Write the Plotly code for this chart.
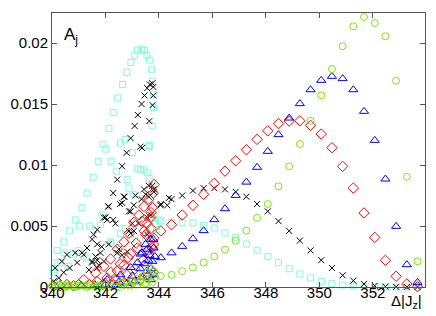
import plotly.graph_objects as go

# ---------------- data ----------------
# sparse grid shared by all series (x >= 344)
grid_x = [344.07, 344.47, 344.87, 345.27, 345.67, 346.07, 346.47, 346.87, 347.27, 347.67,
          348.07, 348.47, 348.87, 349.27, 349.67, 350.07, 350.47, 350.87, 351.27, 351.67,
          352.07, 352.47, 352.87, 353.27, 353.67]

cyan_tail = [0.0054, 0.0053, 0.00525, 0.00525, 0.00506, 0.00484, 0.00443, 0.00407, 0.00352, 0.00301,
             0.00251, 0.00199, 0.0015, 0.00107, 0.00074, 0.00047, 0.00027, 0.00016, 0.0001, 0.00005,
             0.00002, 0.00001, 0.0, 0.0, 0.0]
black_tail = [0.0068, 0.0072, 0.0075, 0.0079, 0.0081, 0.0081, 0.0080, 0.0078, 0.0074, 0.0068,
              0.0062, 0.0054, 0.0046, 0.0038, 0.0030, 0.0022, 0.00156, 0.00096, 0.00052, 0.00025,
              0.0001, 0.00003, 0.00001, 0.0, 0.0]
red_tail = [0.0046, 0.0051, 0.0059, 0.0067, 0.0076, 0.0085, 0.0095, 0.01035, 0.01125, 0.0121,
            0.0128, 0.0134, 0.0136, 0.01363, 0.01325, 0.01254, 0.01142, 0.00989, 0.00811, 0.00607,
            0.00407, 0.00219, 0.00088, 0.00025, 0.00002]
blue_tail = [0.0024, 0.0028, 0.00333, 0.00396, 0.00462, 0.00552, 0.00642, 0.00751, 0.0086, 0.00981,
             0.01112, 0.01249, 0.01385, 0.01503, 0.01617, 0.01694, 0.01727, 0.01708, 0.01617, 0.0144,
             0.01202, 0.00885, 0.00497, 0.00183, 0.00038]
green_tail = [0.0009, 0.0010, 0.0013, 0.0016, 0.0020, 0.0025, 0.00306, 0.0038, 0.00462, 0.00566,
              0.0068, 0.00825, 0.00989, 0.01172, 0.01363, 0.01571, 0.01787, 0.01973, 0.02137, 0.02213,
              0.02164, 0.02055, 0.01691, 0.00904, 0.00211]

# dense part (340 - 344)
cyan_dense_x = [340.06, 340.19, 340.19, 340.44, 340.66, 340.87, 341.12, 341.31, 341.54, 341.73,
                341.91, 342.13, 342.29, 342.46, 342.64, 342.80, 342.95, 343.09, 343.20, 343.35,
                343.46, 343.55, 343.64, 343.72, 343.76, 343.79, 343.80, 343.75, 343.64,
                340.04, 340.31, 340.46, 340.79, 341.02, 341.41, 341.81, 341.87, 342.19, 342.56,
                342.75, 342.88, 342.41, 343.19, 343.31, 343.44, 343.56, 343.63, 343.75, 343.81,
                343.04, 342.21, 342.01, 342.56, 342.73, 343.01, 342.81, 343.37, 343.81, 343.87,
                342.94, 342.21, 343.62, 344.00, 343.90, 340.60, 341.00, 341.30, 343.50]
cyan_dense_y = [0.0012, 0.0020, 0.0030, 0.0037, 0.0046, 0.0055, 0.0065, 0.0077, 0.0090, 0.0103,
                0.0117, 0.0130, 0.0143, 0.0155, 0.0166, 0.0176, 0.0184, 0.0190, 0.0194, 0.0195,
                0.0194, 0.0190, 0.0186, 0.0178, 0.0169, 0.0158, 0.0147, 0.0132, 0.0116,
                0.0014, 0.0020, 0.0028, 0.0027, 0.0050, 0.0050, 0.0051, 0.0059, 0.0037, 0.0044,
                0.0048, 0.0081, 0.0095, 0.0097, 0.0096, 0.0096, 0.0094, 0.0089, 0.0083, 0.0077,
                0.0076, 0.0103, 0.0113, 0.0118, 0.0121, 0.0110, 0.0088, 0.0069, 0.0058, 0.0052,
                0.0039, 0.0036, 0.0115, 0.0055, 0.0047, 0.0017, 0.0030, 0.0024, 0.0040]

black_dense_x = [340.06, 340.25, 340.44, 340.66, 340.94, 341.12, 341.31, 341.50, 341.69, 341.94,
                 342.10, 342.29, 342.44, 342.62, 342.79, 342.94, 343.09, 343.21, 343.35, 343.46,
                 343.56, 343.66, 343.75, 343.79, 343.79, 343.76, 343.64, 343.37,
                 340.12, 340.37, 340.56, 340.87, 341.19, 341.56, 341.94, 341.69, 342.29,
                 342.71, 342.54, 342.88, 342.37, 342.06, 343.00, 342.88, 343.25, 343.56, 343.69,
                 343.75, 343.81, 343.50, 343.12, 343.35, 341.81, 341.69, 341.50, 341.38, 342.44,
                 342.62, 342.81, 343.06, 343.56, 341.75, 343.31, 343.62, 343.44, 343.81, 343.62,
                 342.69, 343.06, 342.62, 342.94, 342.12, 342.00, 342.94, 342.50, 342.12, 341.63,
                 341.50, 341.69, 341.86, 344.31, 344.37, 344.06]
black_dense_y = [0.00047, 0.00074, 0.0012, 0.00156, 0.0020, 0.0028, 0.0032, 0.0039, 0.0047, 0.0057,
                 0.0066, 0.0077, 0.0088, 0.0099, 0.0110, 0.0122, 0.0132, 0.0141, 0.0150, 0.0157,
                 0.0163, 0.0166, 0.0167, 0.0164, 0.0157, 0.0149, 0.0136, 0.0114,
                 0.00156, 0.0021, 0.00265, 0.0028, 0.00265, 0.0043, 0.0021, 0.00156, 0.0055,
                 0.0074, 0.0068, 0.0062, 0.0052, 0.0055, 0.0052, 0.0046, 0.0052, 0.0057, 0.0059,
                 0.0083, 0.0080, 0.0076, 0.0075, 0.0072, 0.0028, 0.0022, 0.0021, 0.0014, 0.0028,
                 0.0026, 0.0029, 0.0046, 0.0043, 0.0018, 0.0115, 0.0083, 0.0080, 0.0078, 0.0074,
                 0.0074, 0.0067, 0.0069, 0.0062, 0.0066, 0.0057, 0.0044, 0.0031, 0.0035, 0.0025,
                 0.0020, 0.0035, 0.0033, 0.0067, 0.0073, 0.0067]

red_dense_x = [340.06, 340.56, 341.19, 341.63, 341.94, 342.19, 342.44, 342.69, 342.88, 343.06,
               343.25, 343.44, 343.62, 343.79, 343.82,
               341.69, 342.06, 342.44, 342.69, 342.94, 343.19, 343.37, 343.55, 343.69, 343.76,
               343.81, 343.75, 343.62,
               342.00, 342.40, 342.80, 343.10, 343.40, 343.60, 343.80, 343.70, 343.50,
               340.30, 340.80, 341.00, 341.40, 341.90, 342.30, 342.70, 343.00, 343.30, 343.60,
               343.80, 342.20, 342.55, 342.85, 343.15, 343.45, 343.70]
red_dense_y = [0.00006, 0.0002, 0.0006, 0.00115, 0.0017, 0.0023, 0.0031, 0.0037, 0.0044, 0.0053,
               0.0059, 0.0066, 0.0072, 0.0077, 0.0084,
               0.00047, 0.00074, 0.0013, 0.0018, 0.0027, 0.0032, 0.0054, 0.0052, 0.0057, 0.0065,
               0.0040, 0.0032, 0.0027,
               0.0003, 0.0006, 0.0010, 0.0015, 0.0022, 0.0030, 0.0035, 0.0048, 0.0043,
               0.0001, 0.0001, 0.0002, 0.0002, 0.0002, 0.0002, 0.0003, 0.0004, 0.0006, 0.0009,
               0.0012, 0.0012, 0.0019, 0.0024, 0.0036, 0.0046, 0.0061]

blue_dense_x = [342.06, 342.56, 342.94, 343.31, 343.50, 343.69, 343.79, 343.80, 343.75,
                342.50, 343.00, 343.30, 343.37, 343.56, 343.60, 343.70, 343.80, 343.45, 343.65,
                340.10, 340.60, 341.10, 341.60, 342.00, 342.40, 342.80, 343.10, 343.40, 343.70,
                343.20, 343.55, 343.85]
blue_dense_y = [0.0006, 0.0010, 0.0016, 0.0027, 0.0035, 0.0039, 0.0039, 0.0032, 0.0021,
                0.0004, 0.0009, 0.0015, 0.0028, 0.0031, 0.0022, 0.0015, 0.0010, 0.0019, 0.0026,
                0.0001, 0.0001, 0.0001, 0.0002, 0.0002, 0.0002, 0.0003, 0.0005, 0.0008, 0.0006,
                0.0020, 0.0013, 0.0025]

green_dense_x = [340.0, 340.2, 340.4, 340.6, 340.8, 341.0, 341.2, 341.4, 341.6, 341.8,
                 342.0, 342.2, 342.4, 342.6, 342.8, 343.0, 343.2, 343.4, 343.55, 343.7,
                 343.8, 343.85, 343.75, 343.5, 343.2, 342.9, 343.6, 343.3, 340.1, 340.5,
                 340.9, 341.3, 341.7, 342.1, 342.5]
green_dense_y = [0.0001, 0.0001, 0.0001, 0.0001, 0.0001, 0.0001, 0.0001, 0.0001, 0.0001, 0.0001,
                 0.0002, 0.0002, 0.0002, 0.0003, 0.0004, 0.0005, 0.0007, 0.0009, 0.0012, 0.0015,
                 0.0013, 0.0008, 0.0004, 0.0003, 0.0002, 0.0001, 0.0006, 0.0004, 0.0, 0.0,
                 0.0, 0.0, 0.0, 0.0, 0.0]

x_ticks = [340, 342, 344, 346, 348, 350, 352]
y_ticks = [0, 0.005, 0.01, 0.015, 0.02]
y_tick_text = ["0", "0.005", "0.01", "0.015", "0.02"]

# ---------------- figure ----------------
series = [
    (cyan_dense_x + grid_x, cyan_dense_y + cyan_tail, "square-open", "#7fffd4", 6),
    (black_dense_x + grid_x, black_dense_y + black_tail, "x-thin-open", "#000000", 6),
    (red_dense_x + grid_x, red_dense_y + red_tail, "diamond-open", "#ff0000", 8),
    (blue_dense_x + grid_x, blue_dense_y + blue_tail, "triangle-up-open", "#0000ff", 8),
    (green_dense_x + grid_x, green_dense_y + green_tail, "circle-open", "#77ee00", 7),
]

fig = go.Figure()
for xs, ys, sym, col, sz in series:
    fig.add_trace(go.Scatter(
        x=xs, y=ys, mode="markers",
        marker=dict(symbol=sym, size=sz, color=col, line=dict(color=col, width=1)),
        showlegend=False, cliponaxis=False,
    ))

fig.update_layout(
    width=436, height=316,
    margin=dict(l=44, r=19, t=5, b=37),
    paper_bgcolor="white", plot_bgcolor="white",
    font=dict(family="Liberation Sans, Arial, sans-serif", size=15, color="black"),
    xaxis=dict(range=[340, 353.95], tickvals=x_ticks, ticks="inside", ticklen=5,
               showline=True, linecolor="#555", linewidth=1, mirror="ticks",
               showgrid=False, zeroline=False, tickcolor="#555", automargin=False,
               ticklabelstandoff=-8),
    yaxis=dict(range=[0, 0.02246], tickvals=y_ticks, ticktext=y_tick_text,
               ticks="inside", ticklen=5, showline=True, linecolor="#555", linewidth=1,
               mirror="ticks", showgrid=False, zeroline=False, tickcolor="#555",
               automargin=False),
    annotations=[
        dict(text="A<sub>j</sub>", x=340.38, y=0.0216, xref="x", yref="y",
             xanchor="left", yanchor="top", showarrow=False, font=dict(size=17)),
        dict(text="Δ|J<sub>z</sub>|", x=352.6, y=-0.01, xref="x", yref="paper",
             xanchor="left", yanchor="top", showarrow=False, font=dict(size=15)),
    ],
)

fig.write_html("out.html")
